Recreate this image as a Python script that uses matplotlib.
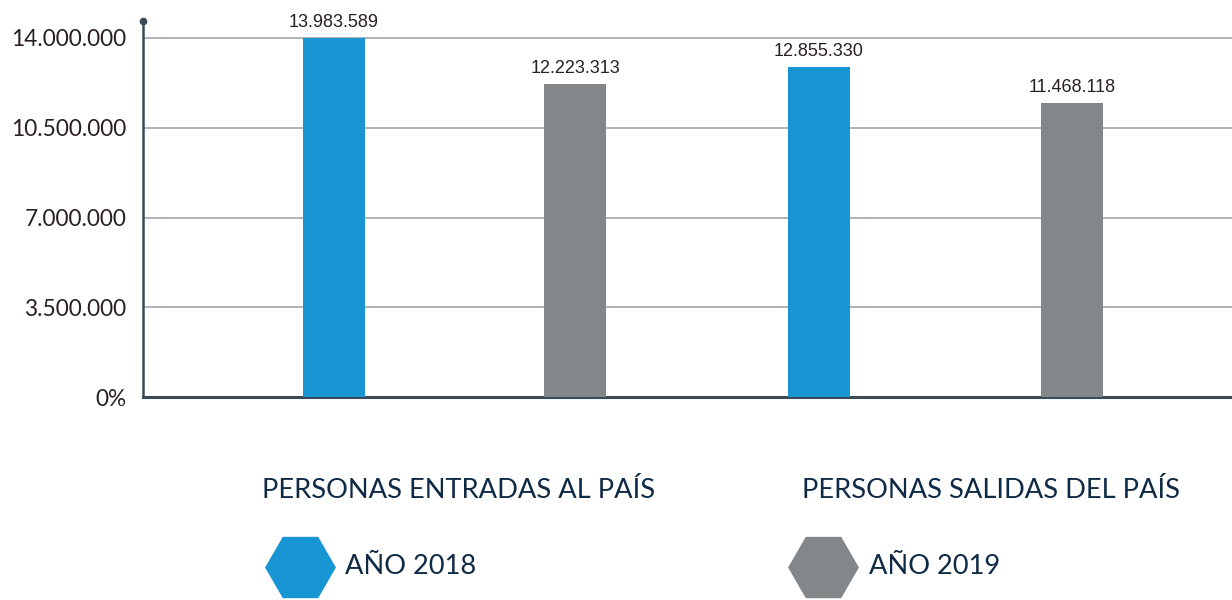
import matplotlib.pyplot as plt
from matplotlib.lines import Line2D

# bars left to right: entradas 2018, entradas 2019, salidas 2018, salidas 2019
values = [13983589, 12223313, 12855330, 11468118]
value_labels = ["13.983.589", "12.223.313", "12.855.330", "11.468.118"]
bar_colors = ["#1896d4", "#83878a", "#1896d4", "#83878a"]
positions = [0, 0.98, 1.97, 3.0]

yticks = [0, 3500000, 7000000, 10500000, 14000000]
ytick_labels = ["0%", "3.500.000", "7.000.000", "10.500.000", "14.000.000"]

groups = ["PERSONAS ENTRADAS AL PAÍS", "PERSONAS SALIDAS DEL PAÍS"]
years = ["AÑO 2018", "AÑO 2019"]
year_colors = ["#1896d4", "#83878a"]

DARK = "#2a1f24"
NAVY = "#0f2a45"
SPINE = "#3a4a56"

fig = plt.figure(figsize=(12.32, 6), dpi=100)
ax = fig.add_axes([143 / 1232, 1 - 397 / 600, 1 - 143 / 1232, (397 - 21) / 600])

ax.bar(positions, values, width=0.252, color=bar_colors, zorder=3)
for x, v, lab in zip(positions, values, value_labels):
    ax.annotate(lab, (x, v), xytext=(0, 5), textcoords="offset points",
                ha="center", va="bottom", fontsize=13, color=DARK,
                family="Liberation Sans")

ymax = 14000000 * (397 - 21) / (397 - 38)
ax.set_ylim(0, ymax)
ax.set_xlim(-0.776, 3.65)
ax.set_yticks(yticks)
ax.set_yticklabels(ytick_labels, fontsize=16.3, color=DARK, family="Lato")
ax.tick_params(axis="y", length=0, pad=12)
ax.set_xticks([])
for y in yticks[1:]:
    ax.axhline(y, color="#a9adb1", lw=1.3, zorder=1)

for s in ("top", "right"):
    ax.spines[s].set_visible(False)
ax.spines["left"].set_color(SPINE)
ax.spines["bottom"].set_color(SPINE)
ax.spines["left"].set_linewidth(1.8)
ax.spines["bottom"].set_linewidth(2.2)
ax.plot([-0.776], [ymax], marker="o", ms=4.5, color=SPINE, clip_on=False, zorder=5)

# legend-style block under the chart
for gx, text in zip([262, 802], groups):
    fig.text(gx / 1232, 1 - 491 / 600, text, ha="left", va="center",
             fontsize=19.6, color=NAVY, family="Lato")
for hx, tx, text, c in zip([300, 823], [345, 869], years, year_colors):
    fig.add_artist(Line2D([hx / 1232], [1 - 567 / 600], marker="H", ms=51,
                          color=c, mec="none", transform=fig.transFigure))
    fig.text(tx / 1232, 1 - 567 / 600, text, ha="left", va="center",
             fontsize=19.6, color=NAVY, family="Lato")

fig.savefig("out.png", dpi=100)
